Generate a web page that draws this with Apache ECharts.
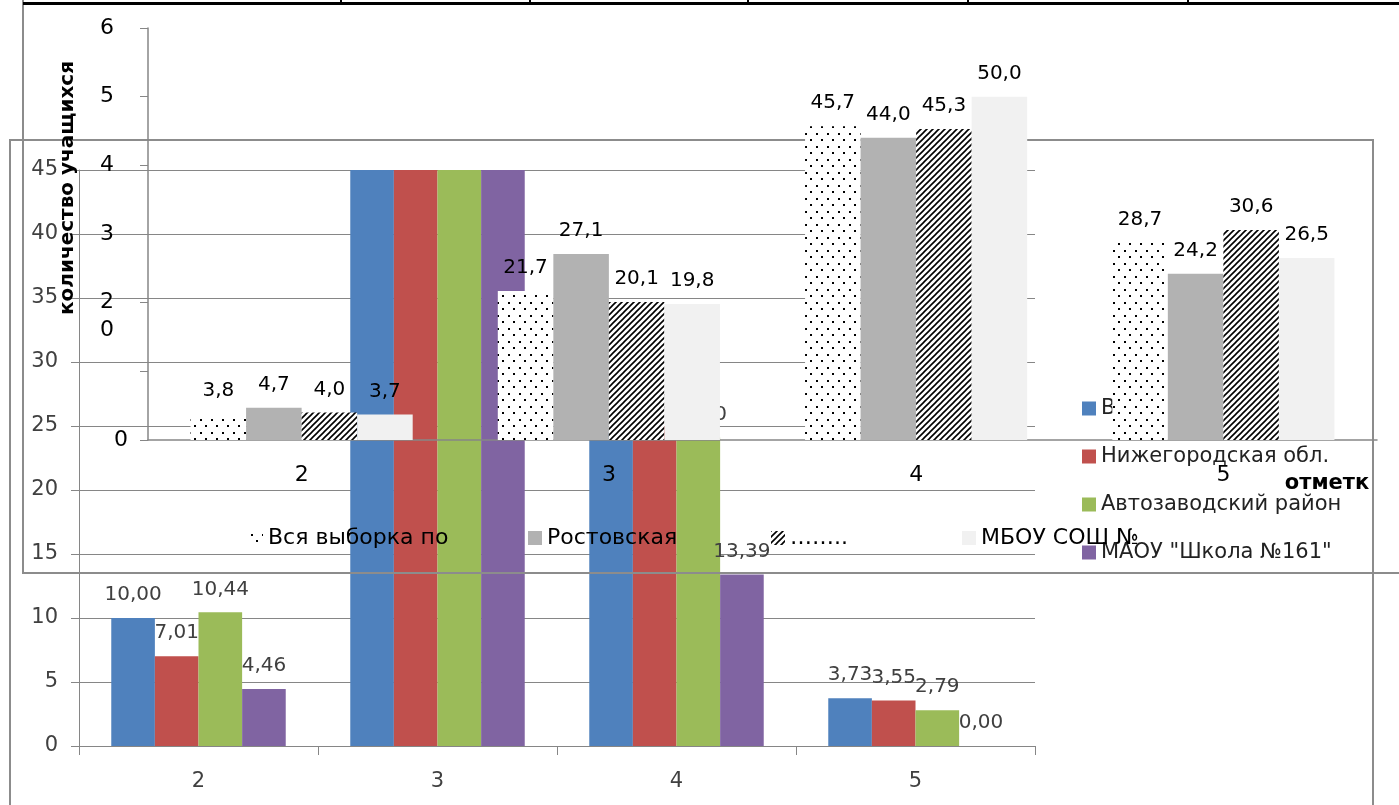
<!DOCTYPE html>
<html><head><meta charset="utf-8">
<script src="https://cdn.jsdelivr.net/npm/echarts@6/dist/echarts.min.js"></script>
<style>html,body{margin:0;padding:0;background:#fff;}#bg,#fg{position:absolute;left:0;top:0;width:1399px;height:805px;}</style>
</head><body>
<div id="bg"></div><div id="fg"></div>
<script>
// ---- background chart (colored) ----
const bgCategories = ['2', '3', '4', '5'];
const bgNames = ['В', 'Нижегородская обл.', 'Автозаводский район', 'МАОУ "Школа №161"'];
const bgBlue   = [10.00, 62.20, 24.50, 3.73];
const bgRed    = [7.01, 64.40, 25.00, 3.55];
const bgGreen  = [10.44, 62.70, 24.10, 2.79];
const bgPurple = [4.46, 82.15, 13.39, 0.00];
const bgTicks = [0, 5, 10, 15, 20, 25, 30, 35, 40, 45];

// ---- foreground chart (patterned, percentages) ----
const fgCategories = ['2', '3', '4', '5'];
const fgNames = ['Вся выборка по', 'Ростовская', '……..', 'МБОУ СОШ №'];
const fgAll      = [3.8, 21.7, 45.7, 28.7];
const fgRostov   = [4.7, 27.1, 44.0, 24.2];
const fgDots     = [4.0, 20.1, 45.3, 30.6];
const fgSchool   = [3.7, 19.8, 50.0, 26.5];
const fgTickLabels = {0: '0', 10: '0', 20: '2', 30: '3', 40: '4', 50: '5', 60: '6'};

const FONT = 'DejaVu Sans';

function dotPattern() {
  const c = document.createElement('canvas'); c.width = 11; c.height = 13;
  const g = c.getContext('2d');
  g.fillStyle = '#fff'; g.fillRect(0, 0, 11, 13);
  g.fillStyle = '#000'; g.fillRect(2, 3, 2, 2); g.fillRect(7, 9, 2, 2);
  return {image: c, repeat: 'repeat'};
}
function hatchPattern() {
  const c = document.createElement('canvas'); c.width = 6; c.height = 6;
  const g = c.getContext('2d');
  g.fillStyle = '#fff'; g.fillRect(0, 0, 6, 6);
  g.strokeStyle = '#000'; g.lineWidth = 1.6;
  g.beginPath();
  g.moveTo(-1, 7); g.lineTo(7, -1);
  g.moveTo(-1, 1); g.lineTo(1, -1);
  g.moveTo(5, 7); g.lineTo(7, 5);
  g.stroke();
  return {image: c, repeat: 'repeat'};
}

const bgColors = ['#4f81bd', '#c0504d', '#9bbb59', '#8064a2'];
const bgData = [bgBlue, bgRed, bgGreen, bgPurple];
const bgMax = bgTicks[bgTicks.length - 1];

const bgChart = echarts.init(document.getElementById('bg'), null, {renderer: 'canvas'});
bgChart.setOption({
  backgroundColor: '#fff',
  animation: false,
  grid: {left: 79, right: 364, top: 170, bottom: 59},
  legend: {
    orient: 'vertical', left: 1077, top: 393, itemGap: 27,
    itemWidth: 14, itemHeight: 14, icon: 'rect',
    textStyle: {fontFamily: FONT, fontSize: 21, color: '#222'},
    data: bgNames
  },
  xAxis: {
    type: 'category', data: bgCategories,
    axisLine: {show: true, lineStyle: {color: '#868686', width: 1}},
    axisTick: {show: true, length: 9, lineStyle: {color: '#868686'}},
    axisLabel: {margin: 25, fontFamily: FONT, fontSize: 21, color: '#404040'}
  },
  yAxis: {
    type: 'value', min: bgTicks[0], max: bgMax, interval: bgTicks[1] - bgTicks[0],
    axisLine: {show: true, lineStyle: {color: '#868686', width: 1}},
    axisTick: {show: true, length: 8, lineStyle: {color: '#868686'}},
    splitLine: {show: true, lineStyle: {color: '#868686', width: 1}},
    axisLabel: {margin: 21, fontFamily: FONT, fontSize: 21, color: '#404040'}
  },
  series: bgData.map((d, i) => ({
    type: 'bar', name: bgNames[i], data: d, clip: true,
    barGap: '0%', barCategoryGap: '27%',
    itemStyle: {color: bgColors[i]},
    label: {
      show: true, position: 'top', distance: 13,
      fontFamily: FONT, fontSize: 20, color: '#404040',
      formatter: p => p.value > bgMax ? '' : p.value.toFixed(2).replace('.', ',')
    }
  })),
  graphic: [
    {type: 'rect', shape: {x: 10, y: 140, width: 1363, height: 700}, style: {fill: 'none', stroke: '#8c8c8c', lineWidth: 2}}
  ]
});

const fgFills = [dotPattern(), {color: '#b2b2b2'}, hatchPattern(), {color: '#f1f1f1'}];
const fgData = [fgAll, fgRostov, fgDots, fgSchool];
const fgLegendX = [244, 523, 766, 957];

const fgChart = echarts.init(document.getElementById('fg'), null, {renderer: 'canvas'});
fgChart.setOption({
  animation: false,
  grid: {left: 148, right: 22, top: 28, bottom: 365},
  legend: fgNames.map((n, i) => ({
    data: [n], left: fgLegendX[i], top: 522, itemWidth: 14, itemHeight: 14, icon: 'rect',
    textStyle: {fontFamily: FONT, fontSize: 22, color: '#000'}
  })),
  xAxis: {
    type: 'category', data: fgCategories,
    axisLine: {show: true, lineStyle: {color: '#868686', width: 1.5}},
    axisTick: {show: false},
    axisLabel: {margin: 24, fontFamily: FONT, fontSize: 22, color: '#000'}
  },
  yAxis: {
    type: 'value', min: 0, max: 60, interval: 10,
    axisLine: {show: true, lineStyle: {color: '#868686', width: 1.5}},
    axisTick: {show: true, length: 8, lineStyle: {color: '#868686'}},
    splitLine: {show: false},
    axisLabel: {
      margin: 20, fontFamily: FONT, fontSize: 22, color: '#000',
      formatter: v => (v === 10 ? '{o|' : v === 0 ? '{z|' : '{n|') + fgTickLabels[v] + '}',
      rich: {
        n: {fontFamily: FONT, fontSize: 22, color: '#000', padding: [0, 14, 0, 0]},
        o: {fontFamily: FONT, fontSize: 22, color: '#000', padding: [0, 14, 82, 0]},
        z: {fontFamily: FONT, fontSize: 22, color: '#000'}
      }
    }
  },
  series: fgData.map((d, i) => ({
    type: 'bar', name: fgNames[i], data: d,
    barGap: '0%', barCategoryGap: '27.7%',
    itemStyle: {color: fgFills[i].color || fgFills[i]},
    label: {
      show: true, position: 'top', distance: 13,
      fontFamily: FONT, fontSize: 20, color: '#000',
      formatter: p => p.value.toFixed(1).replace('.', ',')
    }
  })),
  graphic: [
    {type: 'rect', shape: {x: 23, y: -20, width: 1400, height: 593}, style: {fill: 'none', stroke: '#8c8c8c', lineWidth: 2}},
    {type: 'rect', shape: {x: 23, y: 2, width: 1380, height: 3}, style: {fill: '#000'}},
    {type: 'rect', shape: {x: 340, y: 0, width: 2, height: 4}, style: {fill: '#000'}},
    {type: 'rect', shape: {x: 529, y: 0, width: 2, height: 4}, style: {fill: '#000'}},
    {type: 'rect', shape: {x: 747, y: 0, width: 2, height: 4}, style: {fill: '#000'}},
    {type: 'rect', shape: {x: 967, y: 0, width: 2, height: 4}, style: {fill: '#000'}},
    {type: 'rect', shape: {x: 1187, y: 0, width: 2, height: 4}, style: {fill: '#000'}},
    {type: 'text', x: 68, y: 188, rotation: Math.PI / 2,
     style: {text: 'количество учащихся', fontFamily: FONT, fontSize: 20, fontWeight: 'bold', fill: '#000', align: 'center', verticalAlign: 'middle'}},
    {type: 'text', x: 1327, y: 484,
     style: {text: 'отметк', fontFamily: FONT, fontSize: 21, fontWeight: 'bold', fill: '#000', align: 'center', verticalAlign: 'middle'}}
  ]
});
</script>
</body></html>
